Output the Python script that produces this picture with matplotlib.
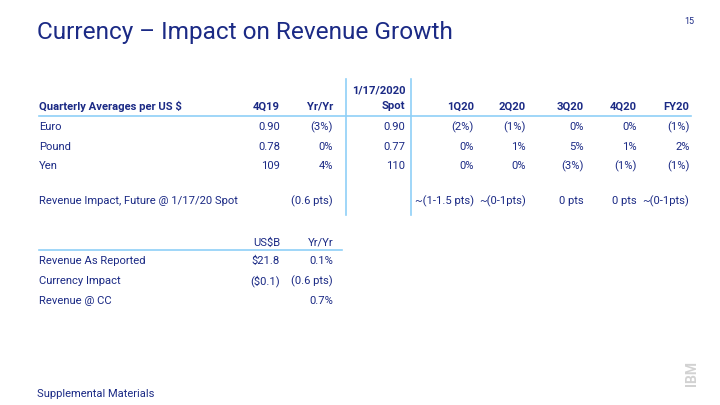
import matplotlib
matplotlib.use('Agg')
import matplotlib.pyplot as plt

plt.rcParams['font.family'] = ['Roboto', 'DejaVu Sans']

NAVY = '#1b2a85'
LINE = '#8fd0f7'

# main table data
header = ['Quarterly Averages per US $', '4Q19', 'Yr/Yr', '1/17/2020\nSpot',
          '1Q20', '2Q20', '3Q20', '4Q20', 'FY20']
currencies = ['Euro', 'Pound', 'Yen']
q4_19 = ['0.90', '0.78', '109']
yoy = ['(3%)', '0%', '4%']
spot = ['0.90', '0.77', '110']
q1_20 = ['(2%)', '0%', '0%']
q2_20 = ['(1%)', '1%', '0%']
q3_20 = ['0%', '5%', '(3%)']
q4_20 = ['0%', '1%', '(1%)']
fy20 = ['(1%)', '2%', '(1%)']
impact_label = 'Revenue Impact, Future @ 1/17/20 Spot'
impact_row = ['', '(0.6 pts)', '', '~(1-1.5 pts)', '~(0-1pts)', '0 pts', '0 pts', '~(0-1pts)']

# revenue table data
rev_header = ['', 'US$B', 'Yr/Yr']
rev_labels = ['Revenue As Reported', 'Currency Impact', 'Revenue @ CC']
rev_usd = ['$21.8', '($0.1)', '']
rev_yoy = ['0.1%', '(0.6 pts)', '0.7%']

fig = plt.figure(figsize=(7.2, 4.05), dpi=100)
ax = fig.add_axes([0, 0, 1, 1])
ax.set_xlim(0, 720)
ax.set_ylim(405, 0)
ax.axis('off')

ax.text(37, 33, 'Currency \u2013 Impact on Revenue Growth', fontsize=17.6,
        color=NAVY, va='center', ha='left')
ax.text(694, 22, '15', fontsize=6.5, color=NAVY, va='center', ha='right')

fs = 8.1
left = 39
col_right = [280, 333, 405.5, 474, 526, 584, 637, 689.5]

# header
ax.text(left, 106.5, header[0], fontsize=fs, color=NAVY, weight='bold', va='center')
for i, h in enumerate(header[1:]):
    if '\n' in h:
        top, bot = h.split('\n')
        ax.text(col_right[i], 90, top, fontsize=fs, color=NAVY, weight='bold', va='center', ha='right')
        ax.text(col_right[i], 106, bot, fontsize=fs, color=NAVY, weight='bold', va='center', ha='right')
    else:
        ax.text(col_right[i], 106.5, h, fontsize=fs, color=NAVY, weight='bold', va='center', ha='right')

ax.plot([left, 691], [115.5, 115.5], color=LINE, lw=1.2)
ax.plot([345.5, 345.5], [79, 215], color=LINE, lw=1.2)
ax.plot([410.7, 410.7], [79, 215], color=LINE, lw=1.2)

rows_y = [127, 146.5, 166]
cols = [q4_19, yoy, spot, q1_20, q2_20, q3_20, q4_20, fy20]
for r, name in enumerate(currencies):
    ax.text(left, rows_y[r], name, fontsize=fs, color=NAVY, va='center')
    for c, vals in enumerate(cols):
        ax.text(col_right[c], rows_y[r], vals[r], fontsize=fs, color=NAVY, va='center', ha='right')

ax.text(left, 201.5, impact_label, fontsize=fs, color=NAVY, va='center')
for c, v in enumerate(impact_row):
    if v:
        ax.text(col_right[c], 201.5, v, fontsize=fs, color=NAVY, va='center', ha='right')

# revenue table
ax.text(280, 243, rev_header[1], fontsize=fs, color=NAVY, va='center', ha='right')
ax.text(333, 243, rev_header[2], fontsize=fs, color=NAVY, va='center', ha='right')
ax.plot([left, 342], [249.5, 249.5], color=LINE, lw=1.2)
rev_y = [261, 281.5, 301.5]
for r, name in enumerate(rev_labels):
    ax.text(left, rev_y[r], name, fontsize=fs, color=NAVY, va='center')
    ax.text(280, rev_y[r], rev_usd[r], fontsize=fs, color=NAVY, va='center', ha='right')
    ax.text(333, rev_y[r], rev_yoy[r], fontsize=fs, color=NAVY, va='center', ha='right')

ax.text(37, 394, 'Supplemental Materials', fontsize=8, color=NAVY, va='center')
ax.text(692, 374, 'IBM', fontsize=10, color='#d2d2d2', weight='bold',
        rotation=90, va='center', ha='center')

fig.savefig('out.png', dpi=100, facecolor='white')
